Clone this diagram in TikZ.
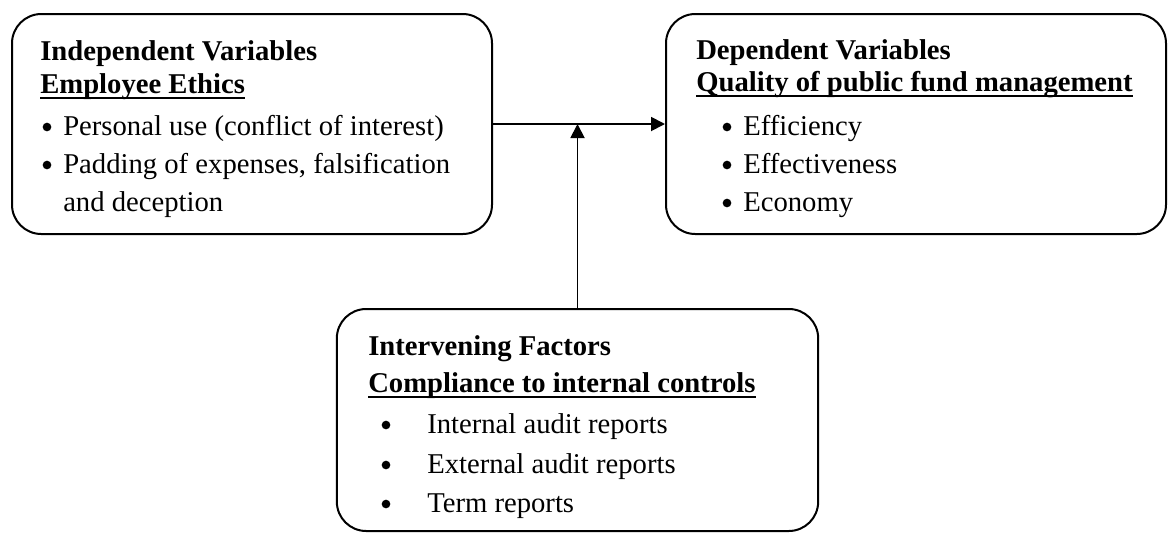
\documentclass[tikz,border=0pt]{standalone}
\usepackage{fontspec}
\setmainfont{Liberation Serif}
\usetikzlibrary{arrows.meta,calc}
\begin{document}
\begin{tikzpicture}[x=0.75pt,y=-0.75pt,
  box/.style={draw, line width=1.5pt, rounded corners=22pt, inner sep=0pt},
  txt/.style={anchor=base west, inner sep=0pt, font=\fontsize{21.5pt}{26pt}\selectfont},
  hd/.style={anchor=base west, inner sep=0pt, font=\fontsize{21.5pt}{26pt}\selectfont\bfseries},
  dot/.style={circle, fill, inner sep=0pt, minimum size=6.5pt},
  ul/.style={line width=1.4pt},
  arr/.style={line width=1.4pt, -{Triangle[length=10.5pt,width=10.5pt]}}]
\useasboundingbox (0,0) rectangle (1168,533);
% boxes
\node[box, minimum width=360pt, minimum height=165pt] (L) at (252,124) {};
\node[box, minimum width=375pt, minimum height=165pt] (R) at (916,124) {};
\node[box, minimum width=361pt, minimum height=166.5pt] (B) at (577.5,420) {};
% left box text
\node[hd] (l1) at (40,60) {Independent Variables};
\node[hd] (l2) at (40,93) {Employee Ethics};
\draw[ul] ([yshift=-4pt]l2.base west) -- ([yshift=-4pt]l2.base east);
\node[dot] (lb1) at (47,127) {};
\node[txt] (lt1) at (63,135) {Personal use (conflict of interest)};
\node[dot] (lb2) at (47,165) {};
\node[txt] (lt2) at (63,173) {Padding of expenses, falsification};
\node[txt] (lt3) at (63,211) {and deception};
% right box text
\node[hd] (r1) at (696,59) {Dependent Variables};
\node[hd] (r2) at (696,91) {Quality of public fund management};
\draw[ul] ([yshift=-4pt]r2.base west) -- ([yshift=-4pt]r2.base east);
\node[dot] (rb1) at (727,127) {};
\node[txt] (rt1) at (743,135) {Efficiency};
\node[dot] (rb2) at (727,165) {};
\node[txt] (rt2) at (743,173) {Effectiveness};
\node[dot] (rb3) at (727,203) {};
\node[txt] (rt3) at (743,211) {Economy};
% bottom box text
\node[hd] (b1) at (368,355) {Intervening Factors};
\node[hd] (b2) at (368,392) {Compliance to internal controls};
\draw[ul] ([yshift=-4pt]b2.base west) -- ([yshift=-4pt]b2.base east);
\node[dot] (bb1) at (386,425) {};
\node[txt] (bt1) at (427,433) {Internal audit reports};
\node[dot] (bb2) at (386,465) {};
\node[txt] (bt2) at (427,473) {External audit reports};
\node[dot] (bb3) at (386,504) {};
\node[txt] (bt3) at (427,512) {Term reports};
% connectors
\coordinate (m) at (B.north |- L.east);
\draw[arr] (L.east) -- (R.west);
\draw[arr] (B.north) -- (m);
\end{tikzpicture}
\end{document}
